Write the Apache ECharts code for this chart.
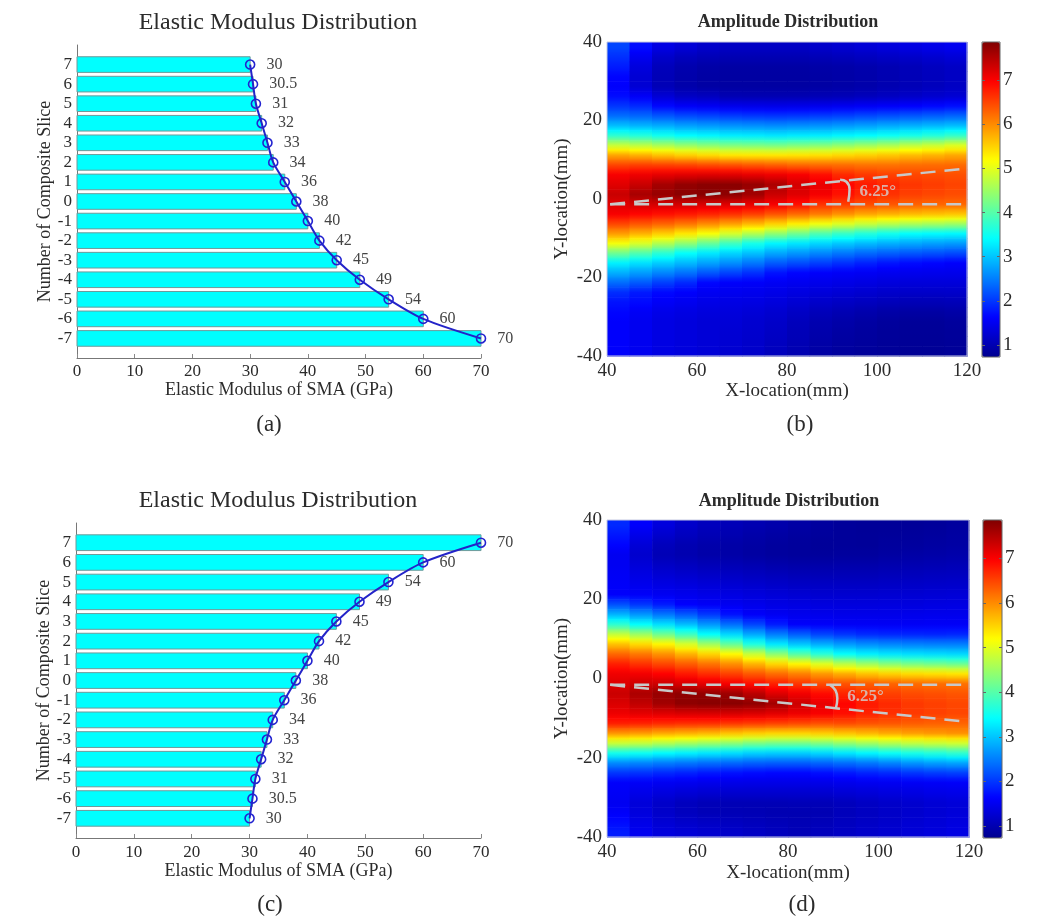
<!DOCTYPE html>
<html>
<head>
<meta charset="utf-8">
<title>Elastic Modulus / Amplitude Distribution</title>
<script src="https://cdn.jsdelivr.net/npm/echarts@6/dist/echarts.min.js"></script>
<style>
  html, body { height: 100%; margin: 0; background: #fff; }
  #main { width: 1054px; height: 919px; }
</style>
</head>
<body>
<div id="main"></div>
<script>
// slices top -> bottom, and modulus per slice (GPa)
var slices = [7, 6, 5, 4, 3, 2, 1, 0, -1, -2, -3, -4, -5, -6, -7];
var modulusA = [30, 30.5, 31, 32, 33, 34, 36, 38, 40, 42, 45, 49, 54, 60, 70];
var modulusC = [70, 60, 54, 49, 45, 42, 40, 38, 36, 34, 33, 32, 31, 30.5, 30];
var sliceTicks = [-7, -6, -5, -4, -3, -2, -1, 0, 1, 2, 3, 4, 5, 6, 7];
var cbTicks = [1, 2, 3, 4, 5, 6, 7];

// heat map cells (mm): x centres, y centres top -> bottom
var cellX = [42.5, 47.5, 52.5, 57.5, 62.5, 67.5, 72.5, 77.5, 82.5, 87.5, 92.5, 97.5, 102.5, 107.5, 112.5, 117.5];
var cellY = [38.75, 36.25, 33.75, 31.25, 28.75, 26.25, 23.75, 21.25, 18.75, 16.25, 13.75, 11.25, 8.75, 6.25, 3.75, 1.25,
  -1.25, -3.75, -6.25, -8.75, -11.25, -13.75, -16.25, -18.75, -21.25, -23.75, -26.25, -28.75, -31.25, -33.75, -36.25, -38.75];

// amplitude, one array per x column, values top -> bottom (panel b)
var ampB = [
  [2.1,1.95,1.8,1.65,1.6,1.7,1.99,2.38,2.95,3.72,4.79,5.81,6.49,7.02,7.18,7.35,7.19,7.02,6.49,5.88,5.11,4.17,3.31,2.84,2.37,1.93,1.74,1.65,1.6,1.6,1.6,1.6],
  [1.7,1.5,1.35,1.28,1.28,1.56,1.91,2.33,2.88,3.64,4.71,5.73,6.52,7.08,7.35,7.58,7.27,6.94,6.38,5.73,4.91,3.96,3.19,2.71,2.24,1.79,1.68,1.55,1.5,1.5,1.5,1.5],
  [1.4,1.2,1.08,1.05,1.05,1.29,1.66,2.22,2.82,3.51,4.58,5.61,6.5,7.14,7.6,7.7,7.28,6.87,6.28,5.54,4.64,3.69,3.05,2.55,2.05,1.67,1.56,1.45,1.4,1.4,1.4,1.4],
  [1.3,1.1,0.98,0.95,0.95,1.15,1.56,2.13,2.74,3.39,4.45,5.51,6.48,7.17,7.72,7.78,7.29,6.81,6.16,5.35,4.4,3.42,2.91,2.41,1.9,1.6,1.5,1.4,1.35,1.35,1.35,1.35],
  [1.2,1.05,0.92,0.9,0.9,1.11,1.52,2.09,2.69,3.34,4.36,5.43,6.43,7.19,7.78,7.8,7.25,6.73,6.01,5.14,4.12,3.25,2.75,2.22,1.66,1.52,1.43,1.35,1.3,1.3,1.3,1.3],
  [1.15,1.02,0.9,0.88,0.88,1.02,1.46,2.03,2.64,3.28,4.28,5.35,6.39,7.18,7.78,7.76,7.21,6.64,5.86,4.89,3.84,3.11,2.61,2.08,1.59,1.5,1.41,1.34,1.3,1.28,1.27,1.25],
  [1.15,1.02,0.9,0.88,0.88,1.01,1.45,2.0,2.62,3.26,4.26,5.34,6.34,7.13,7.7,7.62,7.14,6.54,5.69,4.65,3.55,2.96,2.45,1.95,1.57,1.48,1.39,1.3,1.25,1.23,1.21,1.2],
  [1.15,1.02,0.9,0.88,0.88,1.01,1.44,1.98,2.59,3.23,4.23,5.34,6.3,7.08,7.55,7.34,7.03,6.39,5.51,4.41,3.34,2.78,2.25,1.75,1.53,1.44,1.34,1.25,1.19,1.16,1.13,1.1],
  [1.15,1.02,0.9,0.88,0.88,1.01,1.45,2.0,2.62,3.26,4.28,5.36,6.24,7.02,7.27,7.19,6.88,6.24,5.3,4.19,3.23,2.67,2.15,1.65,1.5,1.38,1.27,1.16,1.09,1.06,1.03,1.0],
  [1.2,1.05,0.92,0.9,0.9,1.03,1.47,2.03,2.64,3.28,4.32,5.39,6.22,6.88,7.12,7.04,6.63,6.11,5.09,3.96,3.12,2.56,2.05,1.59,1.46,1.33,1.2,1.07,0.99,0.96,0.93,0.9],
  [1.25,1.08,0.94,0.92,0.92,1.05,1.5,2.07,2.69,3.34,4.41,5.45,6.2,6.68,6.93,6.85,6.55,5.96,4.95,3.79,3.02,2.45,1.95,1.56,1.42,1.29,1.15,1.02,0.94,0.9,0.87,0.85],
  [1.3,1.12,0.97,0.95,0.95,1.09,1.54,2.12,2.74,3.39,4.5,5.51,6.17,6.58,6.79,6.72,6.45,5.82,4.81,3.65,2.93,2.35,1.85,1.53,1.39,1.25,1.11,0.97,0.89,0.86,0.84,0.82],
  [1.35,1.16,1.01,1.0,1.0,1.13,1.57,2.17,2.8,3.47,4.59,5.57,6.17,6.52,6.7,6.63,6.38,5.74,4.7,3.52,2.85,2.28,1.76,1.5,1.35,1.21,1.07,0.92,0.84,0.82,0.81,0.8],
  [1.4,1.2,1.06,1.05,1.05,1.18,1.61,2.22,2.85,3.56,4.72,5.65,6.2,6.48,6.6,6.53,6.3,5.67,4.61,3.42,2.79,2.22,1.69,1.48,1.33,1.19,1.04,0.89,0.81,0.8,0.79,0.78],
  [1.45,1.25,1.11,1.1,1.1,1.23,1.66,2.27,2.9,3.65,4.81,5.71,6.22,6.45,6.55,6.48,6.27,5.63,4.56,3.38,2.74,2.18,1.65,1.47,1.33,1.19,1.04,0.89,0.81,0.8,0.79,0.78],
  [1.5,1.3,1.16,1.15,1.15,1.27,1.71,2.32,2.95,3.76,4.94,5.79,6.23,6.42,6.5,6.44,6.25,5.59,4.51,3.36,2.7,2.13,1.6,1.46,1.33,1.2,1.06,0.92,0.84,0.82,0.81,0.8]
];

// amplitude, panel d
var ampD = [
  [1.9,1.77,1.64,1.51,1.52,1.55,1.57,1.6,2.18,2.88,3.71,4.76,5.61,6.25,6.75,7.07,7.2,7.34,7.23,7.09,6.76,5.92,4.81,3.53,2.59,1.99,1.59,1.55,1.51,1.58,1.69,1.8],
  [1.6,1.45,1.3,1.23,1.31,1.4,1.48,1.57,2.0,2.67,3.42,4.49,5.44,6.13,6.62,7.05,7.3,7.55,7.41,7.16,6.73,5.88,4.76,3.48,2.55,1.96,1.56,1.45,1.33,1.35,1.43,1.5],
  [1.35,1.22,1.09,1.04,1.16,1.28,1.4,1.52,1.81,2.44,3.18,4.17,5.24,5.95,6.48,6.97,7.31,7.7,7.62,7.2,6.68,5.79,4.66,3.38,2.49,1.9,1.52,1.36,1.2,1.2,1.28,1.35],
  [1.2,1.11,1.01,0.99,1.11,1.23,1.36,1.48,1.61,2.24,2.94,3.82,4.91,5.72,6.33,6.81,7.25,7.75,7.76,7.24,6.65,5.74,4.56,3.31,2.44,1.85,1.49,1.3,1.11,1.11,1.21,1.3],
  [1.1,1.03,0.95,0.94,1.06,1.18,1.31,1.43,1.56,2.01,2.67,3.42,4.52,5.48,6.17,6.67,7.15,7.72,7.8,7.25,6.64,5.69,4.49,3.24,2.39,1.78,1.46,1.26,1.06,1.06,1.16,1.25],
  [1.05,0.99,0.92,0.92,1.03,1.15,1.27,1.39,1.51,1.74,2.38,3.12,4.1,5.22,5.97,6.52,7.03,7.65,7.8,7.26,6.59,5.61,4.38,3.17,2.34,1.73,1.44,1.24,1.04,1.04,1.12,1.2],
  [1.0,0.94,0.89,0.88,1.0,1.11,1.23,1.34,1.46,1.57,2.09,2.79,3.61,4.8,5.71,6.36,6.88,7.45,7.75,7.23,6.55,5.54,4.27,3.09,2.29,1.69,1.43,1.24,1.04,1.03,1.09,1.15],
  [0.95,0.9,0.85,0.85,0.96,1.08,1.19,1.3,1.41,1.52,1.8,2.49,3.24,4.38,5.47,6.22,6.75,7.2,7.62,7.17,6.51,5.49,4.22,3.06,2.27,1.66,1.43,1.24,1.04,1.01,1.06,1.1],
  [0.9,0.86,0.83,0.83,0.94,1.05,1.16,1.27,1.38,1.48,1.59,2.26,3.0,3.99,5.25,6.08,6.6,7.06,7.33,7.09,6.47,5.49,4.22,3.06,2.27,1.66,1.43,1.24,1.06,1.01,1.03,1.05],
  [0.85,0.83,0.81,0.83,0.94,1.04,1.15,1.25,1.36,1.46,1.57,2.09,2.82,3.68,4.97,5.91,6.45,6.9,7.13,7.02,6.42,5.54,4.3,3.13,2.32,1.71,1.44,1.25,1.06,1.02,1.06,1.1],
  [0.82,0.82,0.82,0.85,0.95,1.05,1.15,1.25,1.35,1.45,1.55,1.98,2.69,3.43,4.71,5.76,6.4,6.72,6.94,6.88,6.45,5.61,4.43,3.24,2.39,1.78,1.47,1.29,1.1,1.08,1.11,1.15],
  [0.8,0.81,0.81,0.85,0.95,1.05,1.15,1.25,1.35,1.45,1.55,1.91,2.6,3.3,4.51,5.61,6.32,6.6,6.79,6.74,6.4,5.69,4.54,3.35,2.46,1.86,1.5,1.32,1.15,1.13,1.16,1.2],
  [0.8,0.82,0.84,0.88,0.98,1.07,1.17,1.26,1.36,1.45,1.54,1.88,2.54,3.22,4.35,5.51,6.27,6.52,6.68,6.65,6.37,5.78,4.66,3.47,2.55,1.91,1.52,1.36,1.2,1.18,1.21,1.25],
  [0.8,0.83,0.86,0.91,1.0,1.09,1.18,1.27,1.36,1.46,1.55,1.87,2.51,3.18,4.25,5.43,6.22,6.45,6.58,6.57,6.33,5.86,4.75,3.57,2.66,1.99,1.54,1.39,1.24,1.23,1.27,1.3],
  [0.82,0.85,0.88,0.93,1.02,1.11,1.2,1.29,1.38,1.47,1.56,1.86,2.49,3.15,4.2,5.4,6.2,6.42,6.53,6.52,6.3,5.91,4.81,3.65,2.73,2.04,1.56,1.43,1.29,1.28,1.31,1.35],
  [0.85,0.88,0.9,0.95,1.04,1.12,1.21,1.3,1.39,1.47,1.56,1.88,2.49,3.13,4.15,5.36,6.18,6.38,6.48,6.48,6.28,5.95,4.86,3.74,2.77,2.07,1.57,1.45,1.32,1.32,1.36,1.4]
];

// dashed guide lines, angle bracket and label position (mm)
var baseB = [[40.7, -1.35], [119.3, -1.35]];
var tiltB = [[40.7, -1.35], [119.3, 7.7]];
var arcB = [[91.8, 4.9], [93.2, 4.4], [93.9, 2.5], [93.6, -0.7]];
var labelB = [[96, 1.8]];
var baseD = [[40.7, -1.6], [119.3, -1.6]];
var tiltD = [[40.7, -1.6], [119.3, -10.9]];
var arcD = [[89.3, -1.6], [90.5, -3.0], [90.9, -5.0], [90.6, -7.4]];
var labelD = [[93, -4.6]];
var angleText = '6.25°';

var serif = 'Liberation Serif';
var ink = '#2b2b2b';
var jet = ['#00008f', '#0000ff', '#0080ff', '#00ffff', '#80ff80', '#ffff00', '#ff8000', '#ff0000', '#800000'];
var vMin = 0.73, vMax = 7.86;
var CELL_W = 2.5, CELL_H = 1.25;   // half cell size in mm

function pairs(vals) {
  return slices.map(function (s, i) { return [vals[i], s]; });
}

// each cell carries its neighbours above/below so it can be shaded smoothly
function heatData(cols) {
  var out = [];
  cols.forEach(function (col, i) {
    col.forEach(function (v, j) {
      var up = j > 0 ? col[j - 1] : v;
      var dn = j < col.length - 1 ? col[j + 1] : v;
      out.push([cellX[i], cellY[j], v, up, dn]);
    });
  });
  return out;
}

function jetColor(v) {
  var t = Math.max(0, Math.min(1, (v - vMin) / (vMax - vMin)));
  return echarts.color.lerp(t, jet);
}

function heatCell(params, api) {
  var x = api.value(0), y = api.value(1);
  var v = api.value(2), up = api.value(3), dn = api.value(4);
  var a = api.coord([x - CELL_W, y + CELL_H]);
  var b = api.coord([x + CELL_W, y - CELL_H]);
  return {
    type: 'rect',
    shape: { x: a[0], y: a[1], width: b[0] - a[0] + 0.6, height: b[1] - a[1] + 0.6 },
    style: {
      fill: new echarts.graphic.LinearGradient(0, 0, 0, 1, [
        { offset: 0, color: jetColor((v + up) / 2) },
        { offset: 0.5, color: jetColor(v) },
        { offset: 1, color: jetColor((v + dn) / 2) }
      ])
    }
  };
}

// MATLAB barh look: width 0.8 of a slot
function barItem(params, api) {
  var v = api.value(0), s = api.value(1);
  var a = api.coord([0, s + 0.4]);
  var b = api.coord([v, s - 0.4]);
  return {
    type: 'rect',
    shape: { x: a[0], y: a[1], width: b[0] - a[0], height: b[1] - a[1] },
    style: { fill: '#00ffff', stroke: '#6f9a9a', lineWidth: 1 }
  };
}

function modX(grid, gap, margin) {
  return {
    gridIndex: grid, type: 'value', min: 0, max: 70, interval: 10, position: 'bottom',
    axisLine: { onZero: false, lineStyle: { color: '#777' } },
    axisTick: { inside: true, length: 4, lineStyle: { color: '#888' } },
    splitLine: { show: false },
    axisLabel: { fontFamily: serif, fontSize: 17, color: ink, margin: margin },
    name: 'Elastic Modulus of SMA (GPa)', nameLocation: 'middle', nameGap: gap,
    nameTextStyle: { fontFamily: serif, fontSize: 18, color: ink }
  };
}

function modY(grid) {
  return {
    gridIndex: grid, type: 'value', min: -8, max: 8, position: 'left',
    axisLine: { show: true, onZero: false, lineStyle: { color: '#777' } },
    axisTick: { show: false },
    splitLine: { show: false },
    axisLabel: { customValues: sliceTicks, fontFamily: serif, fontSize: 17, color: ink, margin: 5 },
    name: 'Number of Composite Slice', nameLocation: 'middle', nameGap: 23,
    nameTextStyle: { fontFamily: serif, fontSize: 18, color: ink }
  };
}

function locX(grid, gap) {
  return {
    gridIndex: grid, type: 'value', min: 40, max: 120, interval: 20, position: 'bottom',
    axisLine: { show: false, onZero: false }, axisTick: { show: false }, splitLine: { show: false },
    axisLabel: { fontFamily: serif, fontSize: 19, color: ink, margin: 6 },
    name: 'X-location(mm)', nameLocation: 'middle', nameGap: gap,
    nameTextStyle: { fontFamily: serif, fontSize: 19, color: ink }
  };
}

function locY(grid) {
  return {
    gridIndex: grid, type: 'value', min: -40, max: 40, interval: 20, position: 'left',
    axisLine: { show: false, onZero: false }, axisTick: { show: false }, splitLine: { show: false },
    axisLabel: { fontFamily: serif, fontSize: 19, color: ink, margin: 5 },
    name: 'Y-location(mm)', nameLocation: 'middle', nameGap: 35,
    nameTextStyle: { fontFamily: serif, fontSize: 19, color: ink }
  };
}

function cbY(grid, side) {
  return {
    gridIndex: grid, type: 'value', min: vMin, max: vMax, position: side, z: 6,
    axisLine: { show: false, onZero: false }, splitLine: { show: false },
    axisTick: { show: true, inside: true, length: 3, customValues: cbTicks, lineStyle: { color: '#666' } },
    axisLabel: { show: side === 'right', customValues: cbTicks, fontFamily: serif, fontSize: 19, color: ink, margin: 3 }
  };
}

function hiddenX(grid) {
  return { gridIndex: grid, type: 'value', min: 0, max: 1, show: false };
}

function dashed(x, y, pts) {
  return {
    type: 'line', xAxisIndex: x, yAxisIndex: y, data: pts, symbol: 'none', silent: true, z: 4,
    lineStyle: { color: '#c8c8c8', width: 2.5, type: [15, 9] }
  };
}

function bracket(x, y, pts) {
  return {
    type: 'line', xAxisIndex: x, yAxisIndex: y, data: pts, symbol: 'none', silent: true, z: 4,
    smooth: 0.5, lineStyle: { color: '#c8c8c8', width: 2.5 }
  };
}

function angleLabel(x, y, pts) {
  return {
    type: 'scatter', xAxisIndex: x, yAxisIndex: y, data: pts, symbolSize: 1, silent: true, z: 5,
    itemStyle: { color: 'transparent' },
    label: { show: true, position: 'right', distance: 0, formatter: angleText,
      fontFamily: serif, fontSize: 17, fontWeight: 'bold', color: '#d2d2d2' }
  };
}

function modLine(x, y, vals) {
  return {
    type: 'line', xAxisIndex: x, yAxisIndex: y, data: pairs(vals), smooth: 0.3, clip: false, z: 4,
    symbol: 'circle', symbolSize: 9,
    lineStyle: { color: '#2323c8', width: 2 },
    itemStyle: { color: 'transparent', borderColor: '#2323d0', borderWidth: 1.6 },
    label: { show: true, position: 'right', distance: 11,
      formatter: function (p) { return p.value[0]; },
      fontFamily: serif, fontSize: 16, color: '#444' }
  };
}

function heatSeries(x, y, cols) {
  return {
    type: 'custom', xAxisIndex: x, yAxisIndex: y, data: heatData(cols), renderItem: heatCell,
    encode: { x: 0, y: 1 }, silent: true, z: 2
  };
}

function heading(text, cx, top, size, weight) {
  return { text: text, left: cx, top: top, textAlign: 'center', padding: 0,
    textStyle: { fontFamily: serif, fontSize: size, fontWeight: weight, color: ink } };
}

var option = {
  animation: false,
  backgroundColor: '#fff',
  title: [
    heading('Elastic Modulus Distribution', 278, 11, 24, 'normal'),
    heading('Amplitude Distribution', 788, 13, 18, 'bold'),
    heading('Elastic Modulus Distribution', 278, 489, 24, 'normal'),
    heading('Amplitude Distribution', 789, 492, 18, 'bold'),
    heading('(a)', 269, 413, 23, 'normal'),
    heading('(b)', 800, 413, 23, 'normal'),
    heading('(c)', 270, 893, 23, 'normal'),
    heading('(d)', 802, 893, 23, 'normal')
  ],
  grid: [
    { left: 77, top: 45, width: 404, height: 313 },
    { left: 607, top: 42, width: 360, height: 314, show: true, borderColor: '#c4c8e0', borderWidth: 1, z: 5 },
    { left: 982, top: 42, width: 18, height: 315, show: true, borderColor: '#666', borderWidth: 1, z: 5 },
    { left: 76, top: 523, width: 405, height: 315 },
    { left: 607, top: 520, width: 362, height: 317, show: true, borderColor: '#c4c8e0', borderWidth: 1, z: 5 },
    { left: 983, top: 520, width: 19, height: 318, show: true, borderColor: '#666', borderWidth: 1, z: 5 }
  ],
  xAxis: [
    modX(0, 23, 5),
    locX(1, 26),
    hiddenX(2),
    modX(3, 24, 6),
    locX(4, 27),
    hiddenX(5)
  ],
  yAxis: [
    modY(0),
    locY(1),
    cbY(2, 'right'),
    modY(3),
    locY(4),
    cbY(5, 'right'),
    cbY(2, 'left'),
    cbY(5, 'left')
  ],
  visualMap: [
    { type: 'continuous', seriesIndex: 2, dimension: 2, min: vMin, max: vMax, inRange: { color: jet },
      calculable: false, hoverLink: false, padding: 0, left: 982, top: 42, itemWidth: 18, itemHeight: 315 },
    { type: 'continuous', seriesIndex: 9, dimension: 2, min: vMin, max: vMax, inRange: { color: jet },
      calculable: false, hoverLink: false, padding: 0, left: 983, top: 520, itemWidth: 19, itemHeight: 318 }
  ],
  series: [
    { type: 'custom', xAxisIndex: 0, yAxisIndex: 0, data: pairs(modulusA), renderItem: barItem, encode: { x: 0, y: 1 }, silent: true },
    modLine(0, 0, modulusA),
    heatSeries(1, 1, ampB),
    dashed(1, 1, baseB),
    dashed(1, 1, tiltB),
    bracket(1, 1, arcB),
    angleLabel(1, 1, labelB),
    { type: 'custom', xAxisIndex: 3, yAxisIndex: 3, data: pairs(modulusC), renderItem: barItem, encode: { x: 0, y: 1 }, silent: true },
    modLine(3, 3, modulusC),
    heatSeries(4, 4, ampD),
    dashed(4, 4, baseD),
    dashed(4, 4, tiltD),
    bracket(4, 4, arcD),
    angleLabel(4, 4, labelD)
  ]
};

var chart = echarts.init(document.getElementById('main'));
chart.setOption(option);
</script>
</body>
</html>
